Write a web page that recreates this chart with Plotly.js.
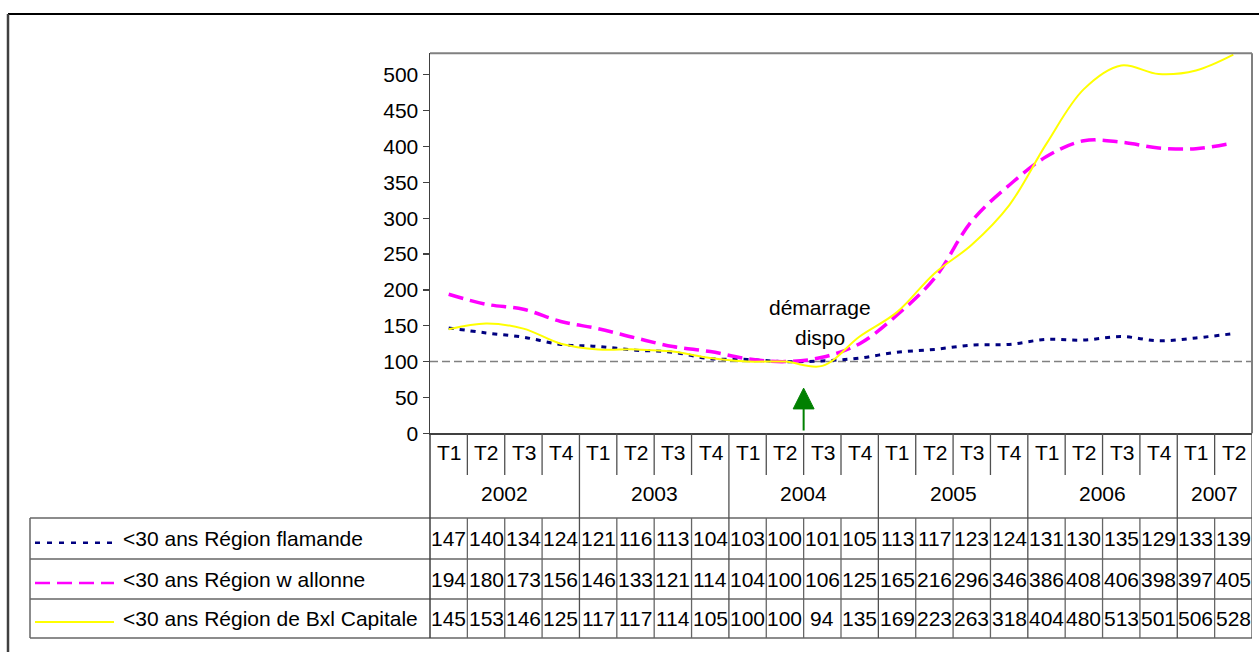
<!DOCTYPE html>
<html>
<head>
<meta charset="utf-8">
<script src="https://cdn.plot.ly/plotly-3.0.1.min.js"></script>
<style>html,body{margin:0;padding:0;background:#fff;}#chart{width:1259px;height:652px;}</style>
</head>
<body>
<div id="chart"></div>
<script>
// ---- data ----
const quarters = ['T1','T2','T3','T4','T1','T2','T3','T4','T1','T2','T3','T4','T1','T2','T3','T4','T1','T2','T3','T4','T1','T2'];
const yearLabels = ['2002','2003','2004','2005','2006','2007'];
const yearSpans = [4,4,4,4,4,2];
const seriesNames = ['<30 ans Région flamande','<30 ans Région w allonne','<30 ans Région de Bxl Capitale'];
const flamande = [147,140,134,124,121,116,113,104,103,100,101,105,113,117,123,124,131,130,135,129,133,139];
const wallonne = [194,180,173,156,146,133,121,114,104,100,106,125,165,216,296,346,386,408,406,398,397,405];
const bxl = [145,153,146,125,117,117,114,105,100,100,94,135,169,223,263,318,404,480,513,501,506,528];
const baseValue = 100;
const annotationText = ['démarrage','dispo'];

// ---- layout helpers ----
const W = 1259, H = 652;
const PX = p => p / W;
const PY = p => 1 - p / H;
const FONT = 'Liberation Sans, Arial, sans-serif';
const xs = quarters.map((_, i) => i);
const n = quarters.length;

const styles = [
  {color:'#000080', width:3, dash:'5px,6px'},
  {color:'#FF00FF', width:3.5, dash:'15px,7px'},
  {color:'#FFFF00', width:2, dash:'solid'}
];
const legendStyles = [
  {color:'#000080', width:2.5, dash:'5px,7px'},
  {color:'#FF00FF', width:2.5, dash:'15px,7px'},
  {color:'#FFFF00', width:2, dash:'solid'}
];
const allSeries = [flamande, wallonne, bxl];

const traces = allSeries.map((s, k) => ({
  type:'scatter', mode:'lines', x: xs, y: s, name: seriesNames[k],
  line:{color:styles[k].color, width:styles[k].width, dash:styles[k].dash, shape:'spline', smoothing:1},
  showlegend:false, hoverinfo:'skip'
}));

// geometry (pixels)
const axisBottom = 433.3, tRowBottom = 475, tableTop = 518;
const rowLines = [518, 559, 599, 638];
const tableLeft = 30;
const gridCol = '#666666';

const shapes = [];
shapes.push({type:'line', xref:'x domain', yref:'y', x0:0, x1:1, y0:baseValue, y1:baseValue,
  line:{color:'#808080', width:1.5, dash:'8px,4px'}, layer:'below'});
shapes.push({type:'line', xref:'paper', yref:'paper', x0:PX(430), x1:PX(1252), y0:PY(53.3), y1:PY(53.3), line:{color:'#808080', width:2}});
shapes.push({type:'line', xref:'paper', yref:'paper', x0:PX(1252), x1:PX(1252), y0:PY(53.3), y1:PY(433.3), line:{color:'#808080', width:2}});
shapes.push({type:'line', xref:'paper', yref:'paper', x0:PX(8), x1:1, y0:PY(14), y1:PY(14), line:{color:'#000000', width:2}});
shapes.push({type:'line', xref:'paper', yref:'paper', x0:PX(8), x1:PX(8), y0:PY(14), y1:0, line:{color:'#404040', width:2.5}});
rowLines.forEach(py => shapes.push({type:'line', xref:'paper', yref:'paper', x0:PX(tableLeft), x1:PX(1252), y0:PY(py), y1:PY(py), line:{color:gridCol, width:1.5}}));
shapes.push({type:'line', xref:'paper', yref:'paper', x0:PX(tableLeft), x1:PX(tableLeft), y0:PY(518), y1:PY(638), line:{color:gridCol, width:1.5}});
shapes.push({type:'line', xref:'paper', yref:'paper', x0:PX(430), x1:PX(430), y0:PY(axisBottom), y1:PY(638), line:{color:'#404040', width:1.5}});
let yearBounds = new Set();
let acc = 0;
yearSpans.forEach(s => { acc += s; yearBounds.add(acc); });
for (let k = 1; k <= n; k++) {
  const x = k - 0.5;
  const isYear = yearBounds.has(k);
  shapes.push({type:'line', xref:'x', yref:'paper', x0:x, x1:x,
    y0:PY(axisBottom), y1:PY(isYear ? 638 : tRowBottom), line:{color:'#505050', width:1.3}});
  if (!isYear) {
    shapes.push({type:'line', xref:'x', yref:'paper', x0:x, x1:x,
      y0:PY(tableTop), y1:PY(638), line:{color:gridCol, width:1.3}});
  }
}
const legendY = [542.7, 583, 622];
legendStyles.forEach((st, k) => shapes.push({type:'line', xref:'paper', yref:'paper',
  x0:PX(35), x1:PX(114), y0:PY(legendY[k]), y1:PY(legendY[k]),
  line:{color:st.color, width:st.width, dash:st.dash}}));
shapes.push({type:'path', xref:'x', yref:'y', path:'M 9.5,63 L 9.22,34 L 9.78,34 Z', fillcolor:'#008000', line:{color:'#008000', width:1}});
shapes.push({type:'line', xref:'x', yref:'y', x0:9.5, x1:9.5, y0:34, y1:4, line:{color:'#008000', width:2}});

const annotations = [];
quarters.forEach((q, i) => annotations.push({x:i - 0.5, xref:'x', y:PY(452), yref:'paper', text:q,
  showarrow:false, xanchor:'left', yanchor:'middle', xshift:5, font:{family:FONT, size:21, color:'#000'}}));
let start = 0;
yearLabels.forEach((yl, j) => {
  const c = start + (yearSpans[j] - 1) / 2;
  annotations.push({x:c, xref:'x', y:PY(494), yref:'paper', text:yl, showarrow:false,
    xanchor:'center', yanchor:'middle', font:{family:FONT, size:21, color:'#000'}});
  start += yearSpans[j];
});
const rowCenters = [538.5, 579, 618.5];
allSeries.forEach((s, k) => {
  s.forEach((v, i) => annotations.push({x:i, xref:'x', y:PY(rowCenters[k]), yref:'paper', text:String(v),
    showarrow:false, xanchor:'center', yanchor:'middle', font:{family:FONT, size:21, color:'#000'}}));
  annotations.push({x:PX(121), xref:'paper', y:PY(rowCenters[k]), yref:'paper', text:seriesNames[k],
    showarrow:false, xanchor:'left', yanchor:'middle', font:{family:FONT, size:21, color:'#000'}});
});
annotations.push({x:9.95, xref:'x', y:PY(307), yref:'paper', text:annotationText[0], showarrow:false,
  xanchor:'center', yanchor:'middle', font:{family:FONT, size:21, color:'#000'}});
annotations.push({x:9.95, xref:'x', y:PY(337), yref:'paper', text:annotationText[1], showarrow:false,
  xanchor:'center', yanchor:'middle', font:{family:FONT, size:21, color:'#000'}});

const layout = {
  width: W, height: H,
  margin:{l:0, r:0, t:0, b:0},
  paper_bgcolor:'#ffffff', plot_bgcolor:'#ffffff',
  showlegend:false,
  xaxis:{domain:[PX(430), PX(1252)], range:[-0.5, n - 0.5], showticklabels:false, ticks:'',
    showgrid:false, zeroline:false, showline:true, linecolor:'#404040', linewidth:1.5, fixedrange:true},
  yaxis:{domain:[PY(433.3), PY(53.3)], range:[0, 530], dtick:50, tick0:0, ticks:'outside', ticklen:6,
    tickcolor:'#404040', tickwidth:1.3, showgrid:false, zeroline:false, showline:true, linecolor:'#404040', linewidth:1.5,
    tickfont:{family:FONT, size:21, color:'#000'}, fixedrange:true},
  shapes: shapes,
  annotations: annotations
};

Plotly.newPlot('chart', traces, layout, {staticPlot:true, displayModeBar:false});
</script>
</body>
</html>
